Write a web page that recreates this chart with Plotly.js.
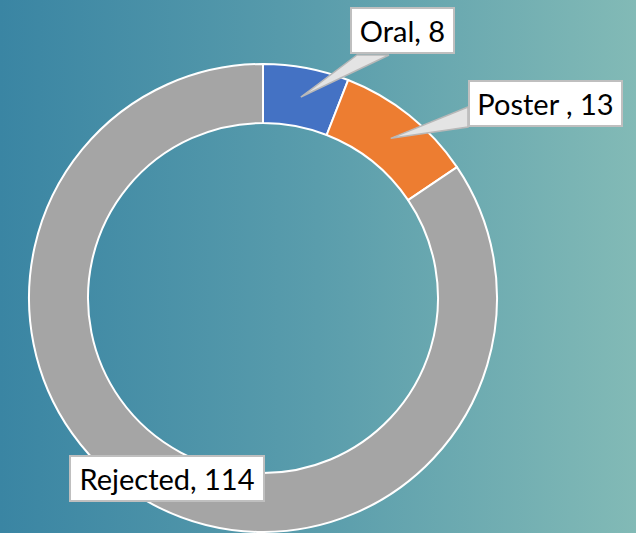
<!DOCTYPE html>
<html>
<head>
<meta charset="utf-8">
<script src="https://cdn.plot.ly/plotly-3.0.1.min.js"></script>
<style>
html,body{margin:0;padding:0;}
body{width:636px;height:533px;overflow:hidden;background:linear-gradient(to right,#3a85a3 0%,#5a9dac 50%,#82bab6 100%);}
#chart{width:636px;height:533px;}
</style>
</head>
<body>
<div id="chart"></div>
<script>
const categories = ['Oral', 'Poster', 'Rejected'];
const values = [8, 13, 114];
const labelTexts = ['Oral, 8', 'Poster , 13', 'Rejected, 114'];
const colors = ['#4472c4', '#ed7d31', '#a5a5a5'];

const W = 636, H = 533;
const cx = 263, cy = 298, rOuter = 234, rInner = 175;
const rMid = (rOuter + rInner) / 2;
const px = x => x / W;
const py = y => 1 - y / H;

// label box layout: [centerX, centerY] (null -> sit on slice), size, wedge base offsets
const boxes = [
  {c: [402, 31], w: 105, h: 47, base: [[-45, 24], [-13, 24]]},
  {c: [545, 104], w: 155, h: 47, base: [[-77, 3], [-77, 23]]},
  {c: null, w: 196, h: 47, base: null}
];

const total = values.reduce((a, b) => a + b, 0);
let cum = 0;
const annotations = [], shapes = [];
values.forEach((v, i) => {
  const mid = (cum + v / 2) / total * 2 * Math.PI;
  cum += v;
  const tip = [cx + rMid * Math.sin(mid), cy - rMid * Math.cos(mid)];
  const b = boxes[i];
  const c = b.c || tip;
  if (b.base) {
    const p1 = [c[0] + b.base[0][0], c[1] + b.base[0][1]];
    const p2 = [c[0] + b.base[1][0], c[1] + b.base[1][1]];
    shapes.push({
      type: 'path', xref: 'paper', yref: 'paper', layer: 'above',
      path: `M ${px(p1[0])} ${py(p1[1])} L ${px(tip[0])} ${py(tip[1])} L ${px(p2[0])} ${py(p2[1])} Z`,
      fillcolor: '#e4e4e4', line: {color: '#b8b8b8', width: 1.5}
    });
  }
  annotations.push({
    x: px(c[0]), y: py(c[1]), xref: 'paper', yref: 'paper',
    xanchor: 'center', yanchor: 'middle', showarrow: false,
    text: labelTexts[i], bgcolor: '#ffffff', bordercolor: '#bfbfbf',
    borderwidth: 2, borderpad: 0, width: b.w - 4, height: b.h - 4,
    font: {family: 'Lato, "Open Sans", sans-serif', size: 29, color: '#000000'}
  });
});

const data = [{
  type: 'pie',
  labels: categories,
  values: values,
  hole: rInner / rOuter,
  sort: false,
  direction: 'clockwise',
  rotation: 0,
  textinfo: 'none',
  hoverinfo: 'label+value',
  marker: {colors: colors, line: {color: '#ffffff', width: 2}},
  domain: {x: [px(cx - rOuter), px(cx + rOuter)], y: [py(cy + rOuter), py(cy - rOuter)]}
}];

const layout = {
  width: W, height: H,
  margin: {l: 0, r: 0, t: 0, b: 0},
  paper_bgcolor: 'rgba(0,0,0,0)',
  plot_bgcolor: 'rgba(0,0,0,0)',
  showlegend: false,
  annotations: annotations,
  shapes: shapes
};

Plotly.newPlot('chart', data, layout, {displayModeBar: false, staticPlot: true});
</script>
</body>
</html>
